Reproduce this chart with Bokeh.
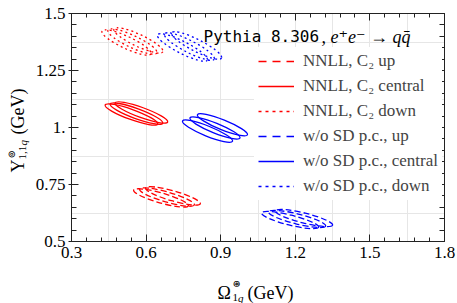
import numpy as np
from bokeh.plotting import figure
from bokeh.models import (LinearAxis, FixedTicker, Legend, LegendItem,
                          Range1d, ColumnDataSource)
from bokeh.core.properties import value
from bokeh.embed import file_html
from bokeh.resources import INLINE

# ---------------- data ----------------
x_ticks = [0.3, 0.6, 0.9, 1.2, 1.5, 1.8]
x_tick_labels = ["0.3", "0.6", "0.9", "1.2", "1.5", "1.8"]
y_ticks = [0.5, 0.75, 1.0, 1.25, 1.5]
y_tick_labels = ["0.5", "0.75", "1.", "1.25", "1.5"]
x_grid = [0.45, 0.6, 0.75, 0.9, 1.05, 1.2, 1.35, 1.5, 1.65]
y_grid = [0.625, 0.875, 1.125, 1.375]

# ellipse centres (three per variant)
nnll_up_x = [0.660, 0.684, 0.708]
nnll_up_y = [0.691, 0.695, 0.700]
nnll_central_x = [0.541, 0.561, 0.581]
nnll_central_y = [1.057, 1.061, 1.066]
nnll_down_x = [0.521, 0.545, 0.569]
nnll_down_y = [1.373, 1.377, 1.382]
wo_up_x = [1.179, 1.207, 1.235]
wo_up_y = [0.594, 0.599, 0.603]
wo_central_x = [0.847, 0.877, 0.907]
wo_central_y = [0.984, 0.998, 1.012]
wo_down_x = [0.746, 0.774, 0.803]
wo_down_y = [1.351, 1.355, 1.360]

# ellipse axes (major in x units, minor in y units) and tilt (deg)
nnll_up_shape = (0.229, 0.044, -16)
nnll_central_shape = (0.225, 0.044, -20)
nnll_down_shape = (0.217, 0.053, -25)
wo_up_shape = (0.237, 0.044, -14)
wo_central_shape = (0.217, 0.044, -22)
wo_down_shape = (0.225, 0.053, -27)

labels = ["NNLL, C\u2082 up", "NNLL, C\u2082 central", "NNLL, C\u2082 down",
          "w/o SD p.c., up", "w/o SD p.c., central", "w/o SD p.c., down"]

RED = "#ff0000"
BLUE = "#0000ff"
SERIF = "Liberation Serif, Times New Roman, DejaVu Serif, serif"
MONO = "DejaVu Sans Mono"

# ---------------- figure ----------------
p = figure(width=457, height=303, x_range=Range1d(0.3, 1.8), y_range=Range1d(0.5, 1.5),
           output_backend="svg", toolbar_location=None,
           min_border_left=71, min_border_right=13, min_border_top=13, min_border_bottom=62)
p.outline_line_color = None
p.background_fill_color = "white"
p.border_fill_color = "white"

p.xgrid.ticker = FixedTicker(ticks=x_grid)
p.ygrid.ticker = FixedTicker(ticks=y_grid)
for g in (p.xgrid[0], p.ygrid[0]):
    g.grid_line_color = "#e6e6e6"
    g.grid_line_width = 1

x_minor = list(np.round(np.arange(0.3, 1.8001, 0.06), 4))
y_minor = list(np.round(np.arange(0.5, 1.5001, 0.05), 4))


def style_axis(ax, ticks, minor, labs, show_labels, major_in, major_out, minor_in):
    ax.ticker = FixedTicker(ticks=ticks, minor_ticks=minor)
    ax.axis_line_color = "#222222"
    ax.axis_line_width = 1
    ax.major_tick_line_color = "#222222"
    ax.minor_tick_line_color = "#222222"
    ax.major_tick_in = major_in
    ax.major_tick_out = major_out
    ax.minor_tick_in = minor_in
    ax.minor_tick_out = 0
    if show_labels:
        ax.major_label_overrides = {t: l for t, l in zip(ticks, labs)}
        ax.major_label_text_font = SERIF
        ax.major_label_text_font_size = "17px"
        ax.major_label_text_color = "black"
    else:
        ax.major_label_text_font_size = "0px"
        ax.major_label_text_color = None
        ax.major_label_text_alpha = 0
        ax.major_label_standoff = 0


xb = p.xaxis[0]
yl = p.yaxis[0]
style_axis(xb, x_ticks, x_minor, x_tick_labels, True, 7, 0, 4)
xb.major_label_standoff = 5
style_axis(yl, y_ticks, y_minor, y_tick_labels, True, 7, 3, 5)
yl.major_label_standoff = 3

xt = LinearAxis()
style_axis(xt, x_ticks, x_minor, x_tick_labels, False, 7, 0, 4)
p.add_layout(xt, "above")
yr = LinearAxis()
style_axis(yr, y_ticks, y_minor, y_tick_labels, False, 7, 0, 5)
p.add_layout(yr, "right")

# ---------------- ellipses ----------------
variants = [
    (nnll_up_x, nnll_up_y, nnll_up_shape, RED, "6 3"),
    (nnll_central_x, nnll_central_y, nnll_central_shape, RED, "solid"),
    (nnll_down_x, nnll_down_y, nnll_down_shape, RED, "2 3"),
    (wo_up_x, wo_up_y, wo_up_shape, BLUE, "6 3"),
    (wo_central_x, wo_central_y, wo_central_shape, BLUE, "solid"),
    (wo_down_x, wo_down_y, wo_down_shape, BLUE, "2 3"),
]
legend_dash = ["8 6", "solid", "3 4", "8 6", "solid", "3 4"]

items = []
for (xs, ys, shape, col, dash), lab, ldash in zip(variants, labels, legend_dash):
    w, h, ang = shape
    src = ColumnDataSource(dict(x=xs, y=ys))
    p.ellipse(x="x", y="y", width=w, height=h, angle=ang, angle_units="deg",
              source=src, fill_color=None, line_color=col, line_width=1.3, line_dash=dash)
    r = p.line(x=[np.nan, np.nan], y=[np.nan, np.nan], line_color=col, line_width=1.5,
               line_dash=ldash)
    items.append(LegendItem(label=lab, renderers=[r]))

legend = Legend(items=items, location=(183, 41), padding=4, margin=0, spacing=5,
                glyph_width=36, glyph_height=20, label_height=20, label_standoff=9,
                label_text_font=SERIF, label_text_font_size="17px",
                label_text_baseline="middle",
                background_fill_color="white", background_fill_alpha=1.0,
                border_line_alpha=0)
p.add_layout(legend, "center")

# ---------------- texts: anchored at the frame's lower-left corner, offset in px ----------------
FRAME_LEFT, FRAME_BOTTOM = 71, 241
X0, Y0 = p.x_range.start, p.y_range.start


def txt(text, px, py, size, font=SERIF, style="normal", angle=0.0):
    p.text(x=[X0], y=[Y0], text=[text], x_offset=px - FRAME_LEFT, y_offset=py - FRAME_BOTTOM,
           angle=angle, text_font=value(font), text_font_size=f"{size}px",
           text_font_style=style, text_color="black", text_align="left",
           text_baseline="alphabetic", level="overlay")


# title inside the frame
txt("Pythia 8.306", 203, 36, 16, font=MONO)
txt(", e\u207Ae\u207B \u2192 qq\u0304", 321, 36, 18, style="italic")

# x axis label  Ω^⊛_{1q} (GeV)
txt("\u03A9", 217, 292, 18)
txt("\u229B", 232, 283, 10)
txt("1", 232, 297, 11)
txt("q", 237.5, 297, 11, style="italic")
txt("(GeV)", 247, 292, 18)

# y axis label  Υ^⊚_{1,1q} (GeV)  (rotated)
ROT = np.pi / 2
txt("\u03A5", 17, 172, 18, angle=ROT)
txt("\u229A", 11, 158, 10, angle=ROT)
txt("1,1", 22, 159, 11, angle=ROT)
txt("q", 22, 145, 11, style="italic", angle=ROT)
txt("(GeV)", 17, 134, 18, angle=ROT)

open("out.html", "w").write(file_html(p, INLINE))
